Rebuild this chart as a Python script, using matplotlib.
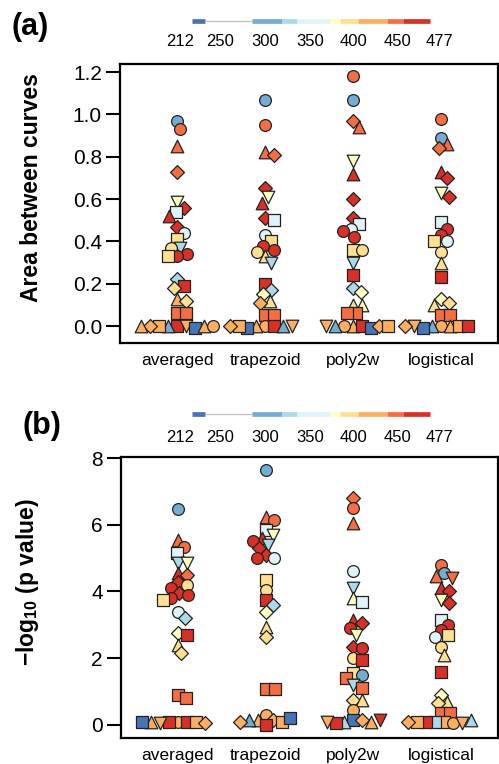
import numpy as np
import matplotlib
matplotlib.use("Agg")
import matplotlib.pyplot as plt

plt.rcParams['font.family'] = ['Liberation Sans', 'DejaVu Sans']
plt.rcParams['mathtext.fontset'] = 'custom'
plt.rcParams['mathtext.rm'] = 'Liberation Sans'
plt.rcParams['mathtext.bf'] = 'Liberation Sans:bold'

# categories
methods = ["averaged", "trapezoid", "poly2w", "logistical"]
legend_ticks = ["212", "250", "300", "350", "400", "450", "477"]

# colour codes -> RdYlBu like palette
pal = {'B': '#4575b4', 'b': '#74add1', 'c': '#abd9e9', 'p': '#e0f3f8',
       'w': '#ffffbf', 'y': '#fee090', 'l': '#fdae61', 'o': '#f46d43', 'r': '#d73027'}

# (a) area between curves; kind = marker + colour code
a_avg_val = [0.97, 0.93, 0.85, 0.73, 0.585, 0.56, 0.54, 0.52, 0.47, 0.44, 0.41, 0.37, 0.37, 0.34, 0.33, 0.33,
             0.22, 0.19, 0.18, 0.13, 0.12, 0.06, 0.06, 0.0, 0.0, 0.0, -0.01, 0.0, 0.0, 0.0, 0.0, 0.0]
a_avg_kind = ["ob", "oo", "^o", "Do", "vw", "Dr", "sp", "^r", "Dr", "op", "sy", "vc", "oy", "or", "or", "sy",
              "Dc", "sr", "Dy", "^l", "Dy", "so", "so", "sr", "vl", "^b", "sB", "sl", "^l", "Dl", "ol", "^l"]

a_trap_val = [1.07, 0.95, 0.82, 0.81, 0.65, 0.61, 0.58, 0.51, 0.50, 0.43, 0.40, 0.38, 0.36, 0.35, 0.33, 0.30,
              0.20, 0.17, 0.15, 0.12, 0.11, 0.05, 0.05, 0.0, 0.0, 0.0, 0.0, -0.01, 0.0, 0.0, 0.0]
a_trap_kind = ["ob", "oo", "^o", "Do", "Dr", "vw", "^r", "Dr", "sp", "op", "sy", "or", "or", "oy", "^y", "vc",
               "sr", "Dc", "Dw", "^y", "Dl", "so", "so", "ol", "sr", "^l", "^b", "sB", "sl", "vl", "Dl"]

a_poly_val = [1.18, 1.07, 0.97, 0.94, 0.78, 0.72, 0.60, 0.51, 0.48, 0.46, 0.45, 0.42, 0.36, 0.36, 0.30,
              0.24, 0.18, 0.16, 0.10, 0.10, 0.06, 0.06, 0.0, 0.0, 0.0, -0.01, 0.0, 0.0, 0.0, 0.0]
a_poly_kind = ["oo", "ob", "Do", "^o", "vw", "^r", "Dr", "Dr", "sp", "op", "or", "or", "sy", "oy", "vc",
               "sr", "Dc", "Dw", "^y", "^w", "so", "so", "^l", "sr", "ol", "sB", "^b", "Dl", "vl", "sl"]

a_logi_val = [0.98, 0.89, 0.86, 0.84, 0.73, 0.70, 0.63, 0.61, 0.49, 0.46, 0.43, 0.40, 0.40, 0.35, 0.30,
              0.23, 0.13, 0.11, 0.10, 0.05, 0.05, 0.0, 0.0, 0.0, 0.0, -0.01, 0.0, 0.0, 0.0]
a_logi_kind = ["oo", "ob", "^o", "Do", "^r", "Dr", "vw", "Dr", "sp", "or", "or", "op", "sy", "oy", "^y",
               "sr", "Dw", "Dy", "^y", "so", "so", "ol", "^l", "^b", "sl", "sB", "vl", "sr", "Dl"]

# (b) -log10 p value
b_avg_val = [6.47, 5.54, 5.33, 5.15, 4.85, 4.85, 4.55, 4.5, 4.28, 4.2, 4.1, 3.95, 3.9, 3.8, 3.74, 3.38,
             3.2, 2.75, 2.7, 2.4, 2.15, 0.9, 0.8, 0.1, 0.1, 0.1, 0.1, 0.05, 0.1, 0.05, 0.1]
b_avg_kind = ["ob", "^o", "oo", "sp", "vc", "vw", "^r", "Do", "Dr", "oy", "or", "Dr", "or", "or", "sy", "op",
              "Dc", "Dw", "sr", "^y", "Dy", "so", "so", "ol", "sr", "sr", "sl", "vl", "^l", "Dl", "sB"]

b_trap_val = [7.63, 6.23, 6.13, 5.84, 5.7, 5.6, 5.5, 5.4, 5.3, 5.1, 5.0, 5.0, 4.34, 4.04, 3.74, 3.6,
              3.38, 2.94, 2.64, 1.07, 1.07, 0.3, 0.15, 0.15, 0.1, 0.0, 0.15, 0.2, 0.1]
b_trap_kind = ["ob", "^o", "oo", "sp", "vw", "^r", "or", "vc", "Dr", "Dr", "op", "or", "sy", "oy", "sr", "Dc",
               "Dw", "^y", "Dy", "so", "so", "ol", "Dl", "^l", "sl", "sr", "^b", "sB", "Dl"]

b_poly_val = [6.8, 6.5, 6.05, 4.6, 4.1, 3.8, 3.7, 3.15, 3.05, 2.9, 2.7, 2.35, 2.3, 2.0, 1.95, 1.55, 1.5,
              1.4, 1.2, 1.1, 0.75, 0.75, 0.45, 0.15, 0.15, 0.1, 0.1, 0.05, 0.1, 0.15]
b_poly_kind = ["Do", "oo", "^o", "op", "vc", "^w", "sp", "^r", "Dr", "or", "vw", "Dr", "or", "oy", "sr", "sy", "ob",
               "so", "vc", "so", "Dy", "^y", "ol", "sB", "Dl", "^c", "^l", "sr", "vl", "vr"]

b_logi_val = [4.8, 4.55, 4.45, 4.4, 4.1, 4.0, 3.75, 3.65, 3.15, 3.0, 2.85, 2.7, 2.65, 2.35, 2.1, 1.6,
              0.9, 0.7, 0.65, 0.35, 0.35, 0.1, 0.1, 0.05, 0.1, 0.05, 0.1, 0.15, 0.1]
b_logi_kind = ["oo", "ob", "^o", "vo", "^r", "Dr", "vw", "Dr", "sp", "or", "or", "sy", "op", "oy", "^y", "sr",
               "Dw", "^y", "Dy", "so", "so", "sl", "sc", "ol", "sr", "vl", "sl", "^c", "Dl"]

panel_a = [(a_avg_val, a_avg_kind), (a_trap_val, a_trap_kind), (a_poly_val, a_poly_kind), (a_logi_val, a_logi_kind)]
panel_b = [(b_avg_val, b_avg_kind), (b_trap_val, b_trap_kind), (b_poly_val, b_poly_kind), (b_logi_val, b_logi_kind)]

W, H = 499, 764
fig = plt.figure(figsize=(W / 100, H / 100), dpi=100)

msize = {'o': 72, 's': 82, '^': 82, 'v': 82, 'D': 50}


def swarm(vals, ypx, xpx, d):
    # simple beeswarm: put each point as close to the centre as it can go
    placed, offs = [], []
    for v in vals:
        y = v * ypx
        cands = [0.0]
        for px, py in placed:
            dy = y - py
            if abs(dy) < d:
                dx = np.sqrt(d * d - dy * dy)
                cands += [px + dx, px - dx]
        cands.sort(key=abs)
        for c in cands:
            if all((c - px) ** 2 + (y - py) ** 2 >= d * d - 1e-6 for px, py in placed):
                break
        placed.append((c, y))
        offs.append(c / xpx)
    return offs


def draw_panel(rect, data, ylim, yticks, fmt):
    ax = fig.add_axes(rect)
    ax.set_xlim(0.35, 4.65)
    ax.set_ylim(*ylim)
    bb = ax.get_position()
    xpx = bb.width * W / (4.65 - 0.35)
    ypx = bb.height * H / (ylim[1] - ylim[0])
    for i, (vals, kinds) in enumerate(data):
        offs = swarm(vals, ypx, xpx, 9.0)
        for k, (v, kd) in enumerate(zip(vals, kinds)):
            ax.scatter(i + 1 + offs[k], v, marker=kd[0], s=msize[kd[0]], c=pal[kd[1]],
                       edgecolors='#222222', linewidths=0.9, zorder=2 + k * 0.01)
    ax.set_xticks(range(1, 5))
    ax.set_xticklabels(methods, fontsize=12.5)
    ax.tick_params(axis='x', length=0, pad=7)
    ax.set_yticks(yticks)
    ax.set_yticklabels([fmt % t for t in yticks], fontsize=15)
    ax.tick_params(axis='y', length=10, width=1.5, pad=3)
    for sp in ax.spines.values():
        sp.set_linewidth(1.6)
    return ax


ax_a = draw_panel([120 / W, 1 - 343 / H, 378 / W, 279 / H], panel_a, (-0.08, 1.238),
                  [0.0, 0.2, 0.4, 0.6, 0.8, 1.0, 1.2], "%.1f")
ax_b = draw_panel([121 / W, 1 - 738 / H, 377 / W, 281 / H], panel_b, (-0.39, 8.03),
                  [0, 2, 4, 6, 8], "%d")

# colour key above each panel
segments = [(192, 205, '#4a72b8', 3.4), (205, 252, '#c4c4c4', 1.0), (252, 282, '#74add1', 3.4),
            (282, 297, '#abd9e9', 3.4), (297, 330, '#e0f3f8', 3.4), (330, 340, '#ffffbf', 3.4),
            (340, 358, '#fee090', 3.4), (358, 387, '#fdae61', 3.4), (387, 403, '#f46d43', 3.4),
            (403, 430, '#d73027', 3.4)]
label_x = [180, 220, 265, 310, 354, 398, 440]


def draw_key(bar_y, lab_y):
    kax = fig.add_axes([0, 0, 1, 1], zorder=-1)
    kax.set_xlim(0, W)
    kax.set_ylim(H, 0)
    kax.axis('off')
    for x0, x1, col, lw in segments:
        kax.plot([x0, x1], [bar_y, bar_y], color=col, lw=lw, solid_capstyle='butt')
    for x, t in zip(label_x, legend_ticks):
        kax.text(x, lab_y, t, ha='center', va='center', fontsize=12)


draw_key(21, 42)
draw_key(414, 437)

fig.text(30 / W, 1 - 27 / H, "(a)", fontsize=22, fontweight='bold', ha='center', va='center')
fig.text(42 / W, 1 - 426 / H, "(b)", fontsize=22, fontweight='bold', ha='center', va='center')
fig.text(32 / W, 1 - 188 / H, "Area between curves", fontsize=16.5, fontweight='bold',
         rotation=90, ha='center', va='center')
fig.text(28 / W, 1 - 582 / H, r"$\mathbf{-log_{10}}$" + " (p value)", fontsize=16.5, fontweight='bold',
         rotation=90, ha='center', va='center')

fig.savefig("out.png", dpi=100)
